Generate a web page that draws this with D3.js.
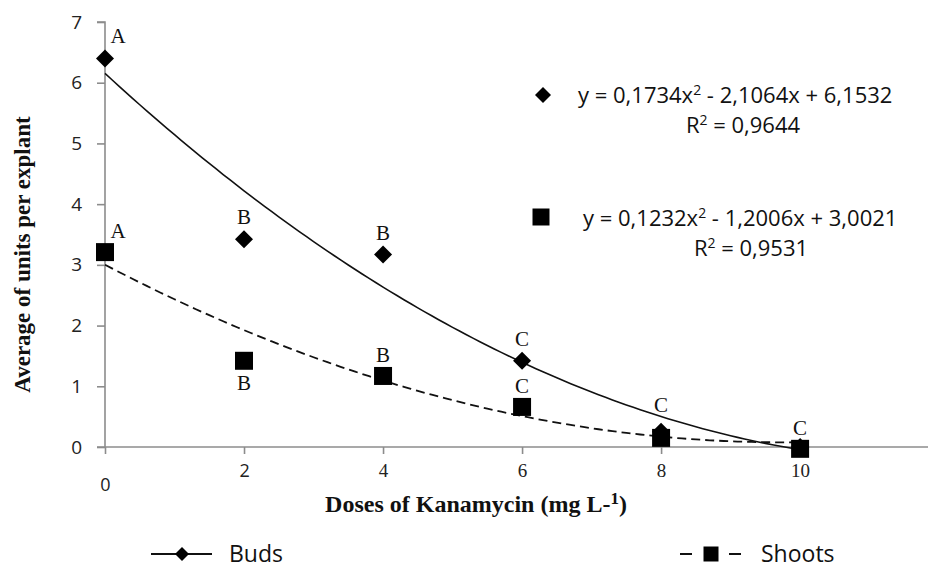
<!DOCTYPE html>
<html><head><meta charset="utf-8">
<script src="https://cdn.jsdelivr.net/npm/d3@7"></script>
<style>
body{margin:0;background:#fff;}
svg{display:block;}
</style></head>
<body>
<svg id="chart" width="928" height="570"></svg>
<script>
// ---- data ----
const doses = [0, 2, 4, 6, 8, 10];
const buds = [6.4, 3.42, 3.17, 1.42, 0.25, 0.0];
const shoots = [3.21, 1.42, 1.17, 0.66, 0.15, -0.03];
const budsLetters = ["A", "B", "B", "C", "C", ""];
const shootsLetters = ["A", "B", "B", "C", "", "C"];
const shootsLetterSide = ["above", "below", "above", "above", "above", "above"];
const budsFit = [6.1532, -2.1064, 0.1734];   // in x = dose/2 index
const shootsFit = [3.0021, -1.2006, 0.1232];
const budsEq = ["y = 0,1734x", "2", " - 2,1064x + 6,1532"];
const budsR2 = "0,9644";
const shootsEq = ["y = 0,1232x", "2", " - 1,2006x + 3,0021"];
const shootsR2 = "0,9531";
const yTicks = [0, 1, 2, 3, 4, 5, 6, 7];
const xTicks = [0, 2, 4, 6, 8, 10];

const svg = d3.select("#chart");
const x = d3.scaleLinear().domain([0, 11.84]).range([105, 928]);
const y = d3.scaleLinear().domain([0, 7]).range([447, 22]);
const axisColor = "#8c8c8c";
const serif = "'Liberation Serif','DejaVu Serif',serif";
const sans = "'Open Sans','Noto Sans',sans-serif";

// axes
const yAxis = svg.append("g").attr("transform", `translate(${x(0)},0)`)
  .call(d3.axisLeft(y).tickValues(yTicks).tickSize(8).tickPadding(15).tickFormat(d3.format("d")));
yAxis.select(".domain").attr("stroke", axisColor).attr("stroke-width", 1.6)
  .attr("d", `M-8,${y(7)}H0V${y(0)}`);
yAxis.selectAll(".tick line").attr("stroke", axisColor).attr("stroke-width", 1.6);
yAxis.selectAll(".tick text").attr("font-family", sans).attr("font-size", 19).attr("fill", "#222");

const xAxis = svg.append("g").attr("transform", `translate(0,${y(0)})`)
  .call(d3.axisBottom(x).tickValues(xTicks).tickSize(7).tickPadding(10).tickFormat(d3.format("d")));
xAxis.select(".domain").attr("stroke", axisColor).attr("stroke-width", 1.6)
  .attr("d", `M${x(0)-8},0H928`);
xAxis.selectAll(".tick line").attr("stroke", axisColor).attr("stroke-width", 1.6);
xAxis.selectAll(".tick text").attr("font-family", serif).attr("font-size", 19).attr("fill", "#222");
xAxis.selectAll(".tick text").filter(d => d === 0).attr("font-family", sans).attr("dy", "1.5em").attr("font-size", 18);
xAxis.selectAll(".tick text").filter(d => d === 2).attr("font-family", sans).attr("font-size", 18);

// axis titles
svg.append("text").attr("transform", `translate(30,${(y(0)+y(7))/2 + 20}) rotate(-90)`)
  .attr("text-anchor", "middle").attr("font-family", serif).attr("font-weight", "bold")
  .attr("font-size", 23).attr("fill", "#111").text("Average of units per explant");
const xt = svg.append("text").attr("x", 476).attr("y", 512).attr("text-anchor", "middle")
  .attr("font-family", serif).attr("font-weight", "bold").attr("font-size", 24).attr("fill", "#111");
xt.append("tspan").text("Doses of Kanamycin (mg L-");
xt.append("tspan").attr("dy", -8).attr("font-size", 17).text("1");
xt.append("tspan").attr("dy", 8).text(")");

// trend curves
function poly(c, d) { const t = d / 2; return c[0] + c[1] * t + c[2] * t * t; }
const curveX = d3.range(0, 10.001, 0.1);
const line = d3.line().x(d => x(d[0])).y(d => y(d[1]));
svg.append("path").attr("d", line(curveX.map(d => [d, poly(budsFit, d)])))
  .attr("fill", "none").attr("stroke", "#111").attr("stroke-width", 1.6);
svg.append("path").attr("d", line(curveX.map(d => [d, poly(shootsFit, d)])))
  .attr("fill", "none").attr("stroke", "#111").attr("stroke-width", 1.8).attr("stroke-dasharray", "9,5");

// markers
const diamond = r => `M0,${-r}L${r},0L0,${r}L${-r},0Z`;
const square = s => `M${-s/2},${-s/2}h${s}v${s}h${-s}Z`;
svg.append("g").selectAll("path").data(doses).join("path")
  .attr("transform", (d, i) => `translate(${x(d)},${y(buds[i])})`)
  .attr("d", diamond(9)).attr("fill", "#000");
svg.append("g").selectAll("path").data(doses).join("path")
  .attr("transform", (d, i) => `translate(${x(d)},${y(shoots[i])})`)
  .attr("d", square(18)).attr("fill", "#000");

// letters
const lg = svg.append("g").attr("font-family", serif).attr("font-size", 21).attr("fill", "#111").attr("text-anchor", "middle");
doses.forEach((d, i) => {
  const dx = d === 0 ? 13 : 0;
  if (budsLetters[i]) lg.append("text").attr("x", x(d) + dx).attr("y", y(buds[i]) - (d === 8 ? 20 : 15)).text(budsLetters[i]);
  if (shootsLetters[i]) {
    const below = shootsLetterSide[i] === "below";
    lg.append("text").attr("x", x(d) + dx).attr("y", y(shoots[i]) + (below ? 29 : -14)).text(shootsLetters[i]);
  }
});

// equations
const eqFont = 22;
function eq(mx, my, sym, tx, ty, parts, r2, r2x) {
  svg.append("path").attr("transform", `translate(${mx},${my})`).attr("d", sym).attr("fill", "#000");
  const t = svg.append("text").attr("x", tx).attr("y", ty).attr("font-family", sans).attr("font-size", eqFont).attr("fill", "#111");
  t.append("tspan").text(parts[0]);
  t.append("tspan").attr("dy", -8).attr("font-size", 14).text(parts[1]);
  t.append("tspan").attr("dy", 8).text(parts[2]);
  const r = svg.append("text").attr("x", r2x).attr("y", ty + 30).attr("text-anchor", "middle")
    .attr("font-family", sans).attr("font-size", eqFont).attr("fill", "#111");
  r.append("tspan").text("R");
  r.append("tspan").attr("dy", -8).attr("font-size", 14).text("2");
  r.append("tspan").attr("dy", 8).text(" = " + r2);
}
eq(543, 95, diamond(8), 578, 103, budsEq, budsR2, 743);
eq(541, 217, square(17), 583, 226, shootsEq, shootsR2, 751);

// legend
const ly = 554;
svg.append("line").attr("x1", 151).attr("x2", 212).attr("y1", ly).attr("y2", ly).attr("stroke", "#111").attr("stroke-width", 2);
svg.append("path").attr("transform", `translate(182,${ly})`).attr("d", diamond(7)).attr("fill", "#000");
svg.append("text").attr("x", 229).attr("y", ly + 8).attr("font-family", sans).attr("font-size", 23).attr("fill", "#111").text("Buds");
svg.append("line").attr("x1", 680).attr("x2", 692).attr("y1", ly).attr("y2", ly).attr("stroke", "#111").attr("stroke-width", 2);
svg.append("line").attr("x1", 729).attr("x2", 741).attr("y1", ly).attr("y2", ly).attr("stroke", "#111").attr("stroke-width", 2);
svg.append("path").attr("transform", `translate(711,${ly})`).attr("d", square(15)).attr("fill", "#000");
svg.append("text").attr("x", 761).attr("y", ly + 8).attr("font-family", sans).attr("font-size", 23).attr("fill", "#111").text("Shoots");
</script>
</body></html>
